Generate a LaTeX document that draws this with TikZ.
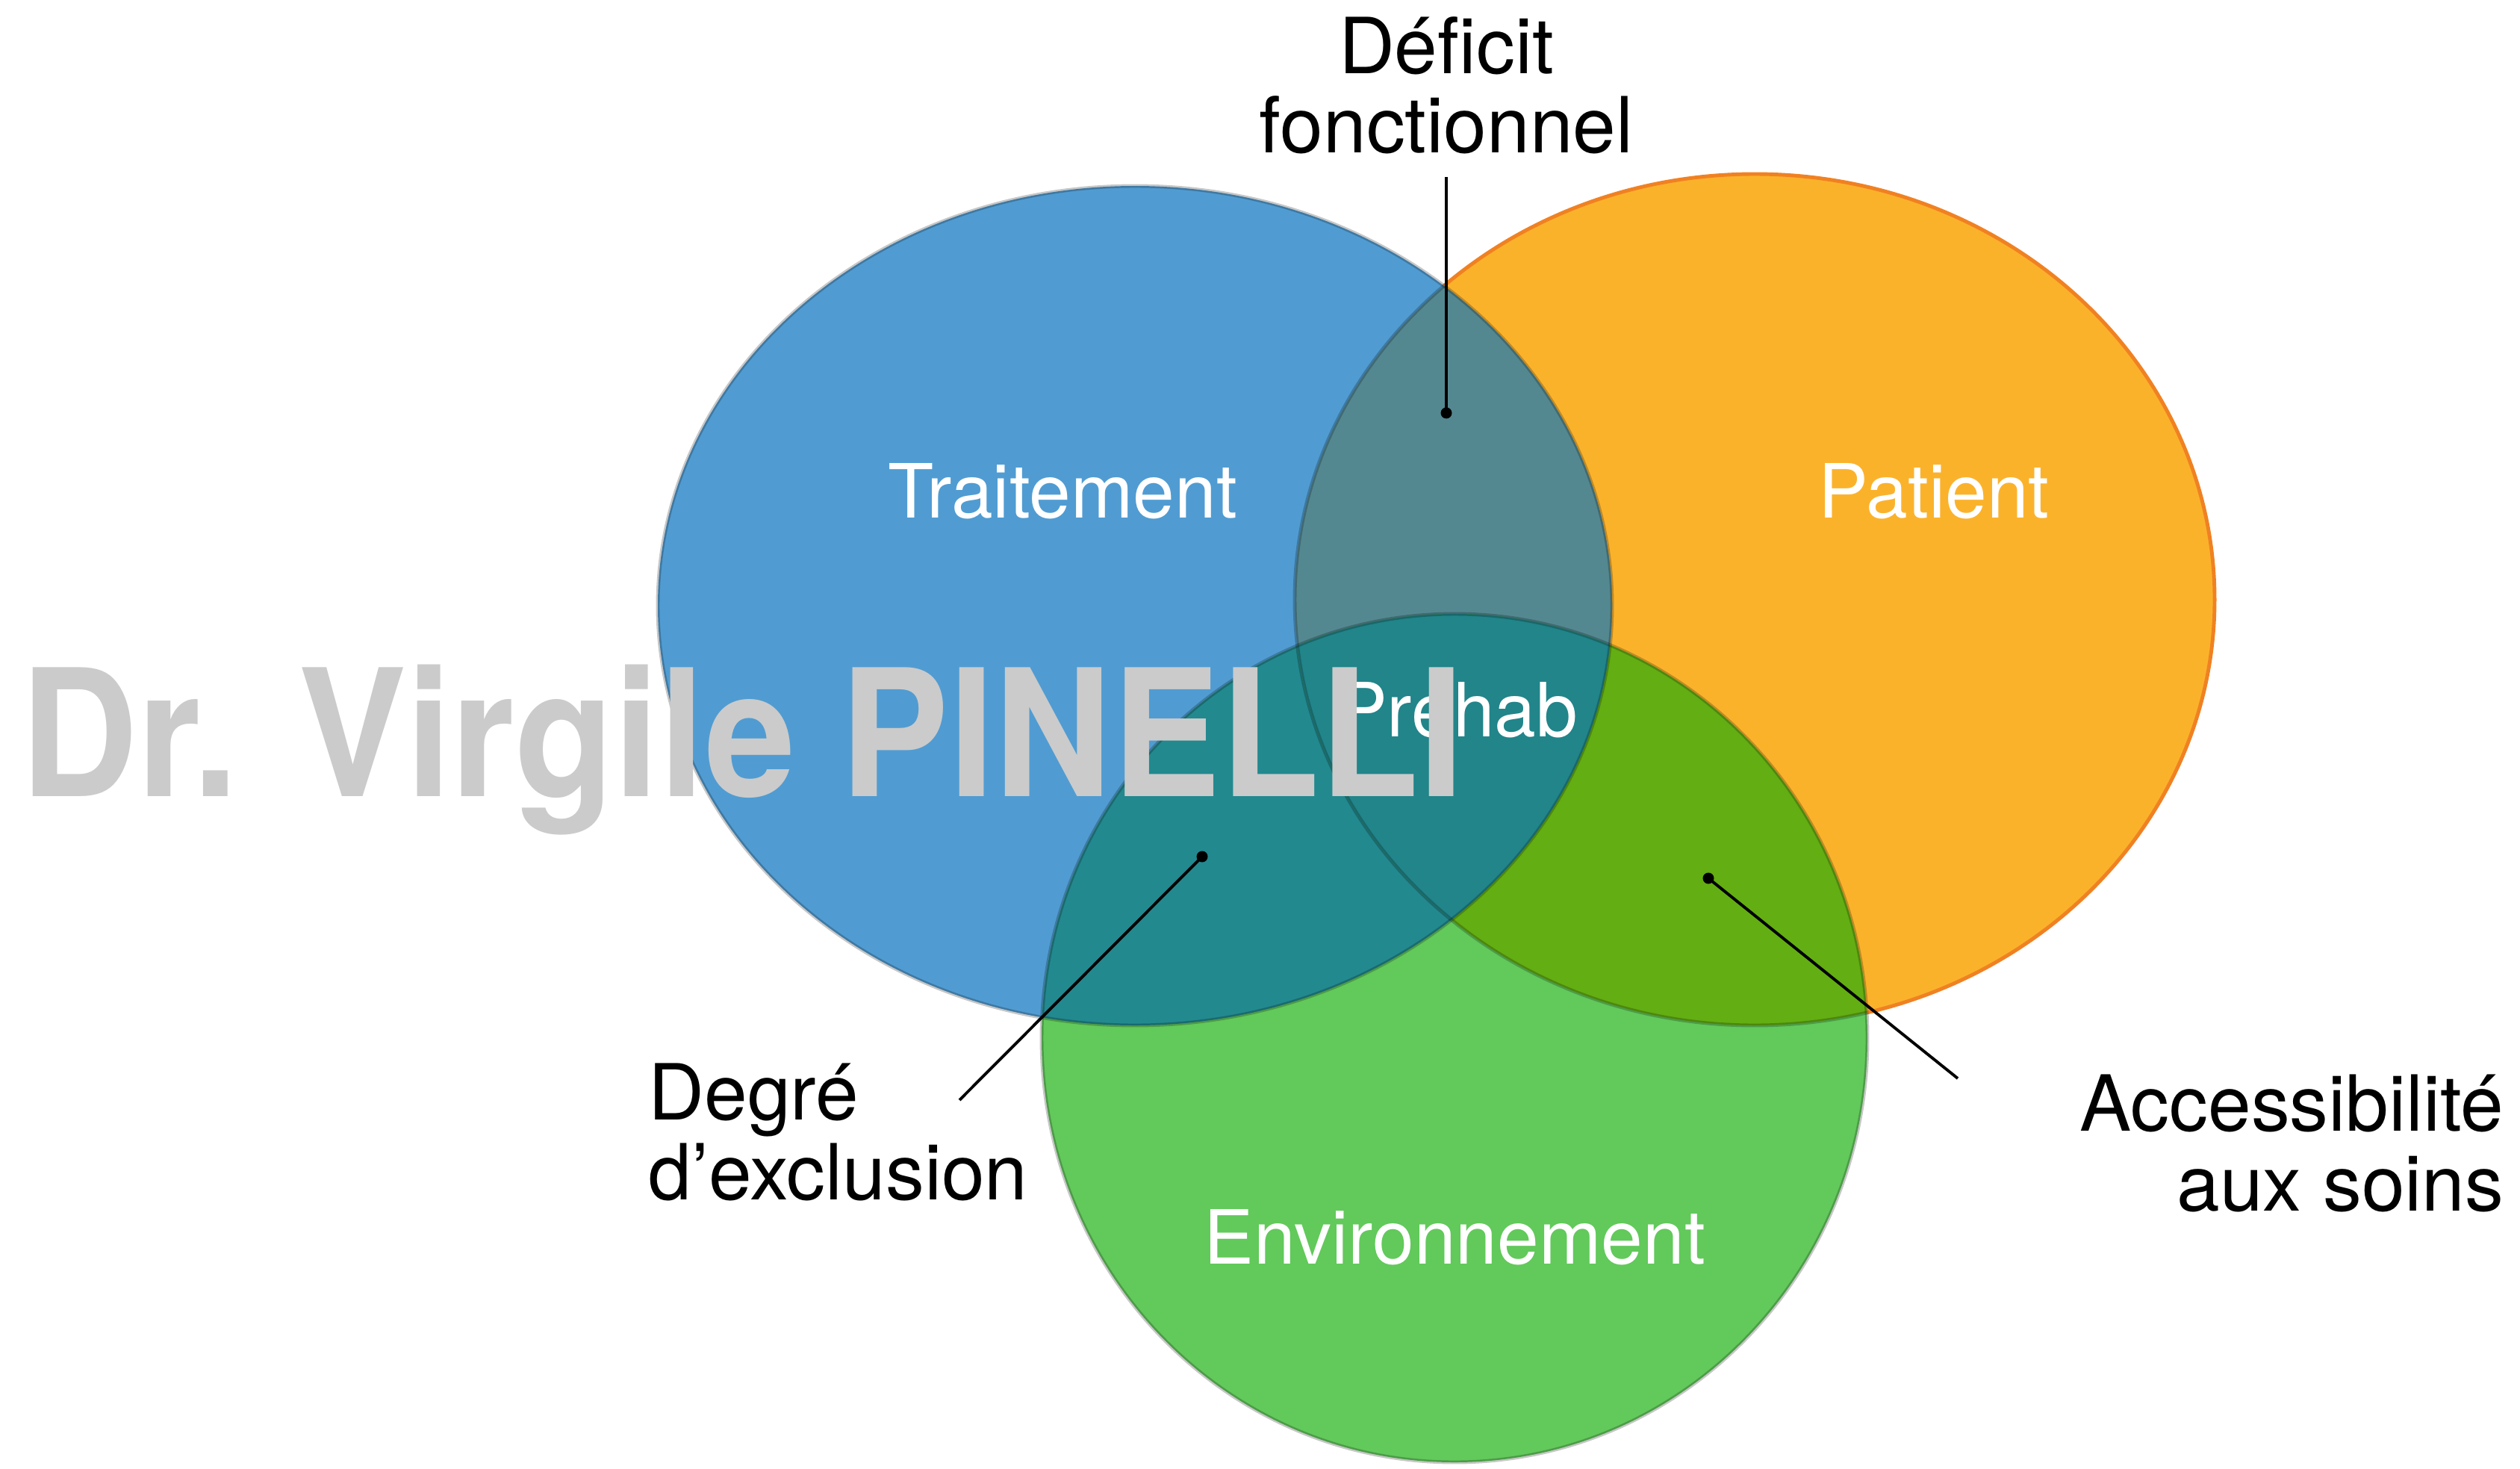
\documentclass[tikz,border=0pt]{standalone}
\usepackage{fontspec}
\setmainfont{TeX Gyre Heros}
\usepackage{tikz}

\begin{document}
\begin{tikzpicture}[
  txt/.style={font=\fontsize{29.5}{30.4}\selectfont, inner sep=0pt},
  intxt/.style={txt, white, font=\fontsize{28.5}{30.4}\selectfont},
  pindot/.style={circle, fill=black, inner sep=0pt, minimum size=0.15cm},
  leadline/.style={line width=1.1pt},
  rim/.style={line width=1.4pt, black, opacity=0.22}
]
% Define colours
\definecolor{trait}{HTML}{509CD2}
\definecolor{patient}{HTML}{FBB22B}
\definecolor{patrim}{HTML}{F08122}
\definecolor{envir}{HTML}{62C95B}
\definecolor{traitpat}{HTML}{548891}
\definecolor{traitenv}{HTML}{22898F}
\definecolor{patenv}{HTML}{63AE12}
\definecolor{prehab}{HTML}{21858A}
\definecolor{wmgray}{HTML}{CBCBCB}

% Canvas
\fill[white] (0,0) rectangle (33.75,-19.66);
\useasboundingbox (0,0) rectangle (33.75,-19.66);

% The three sets
\def\traitring{(15.20,-8.11) ellipse [x radius=6.39, y radius=5.62]}
\def\patring{(23.50,-8.03) ellipse [x radius=6.16, y radius=5.70]}
\def\envring{(19.48,-13.90) ellipse [x radius=5.53, y radius=5.68]}

% Draw sets
\fill[patient] \patring;
\draw[patrim, line width=1.4pt] \patring;
\fill[trait] \traitring;
\fill[envir] \envring;

% Draw overlaps
\begin{scope}
  \clip \traitring;
  \fill[traitpat] \patring;
  \fill[traitenv] \envring;
\end{scope}
\begin{scope}
  \clip \patring;
  \fill[patenv] \envring;
\end{scope}
\begin{scope}
  \clip \traitring;
  \clip \patring;
  \fill[prehab] \envring;
\end{scope}

% Draw rims
\begin{scope}
  \clip \traitring \envring;
  \draw[rim] \patring;
\end{scope}
\draw[rim] \traitring;
\draw[rim] \envring;

% Set names
\node[intxt, anchor=base] (traitement) at (14.23,-6.93) {Traitement};
\node[intxt, anchor=base] (patient) at (25.90,-6.93) {Patient};
\node[intxt, anchor=base] (prehabtxt) at (19.52,-9.86) {Préhab};
\node[intxt, anchor=base] (environ) at (19.48,-16.92) {Environnement};

% Outside labels (base = last line)
\node[txt, align=center, anchor=base] (deficit) at (19.37,-2.05) {Déficit\\fonctionnel};
\node[txt, align=left, anchor=base west] (exclusion) at (8.68,-16.06) {Degré\\d’exclusion};
\node[txt, align=right, anchor=base east] (acces) at (33.54,-16.21) {Accessibilité\\aux soins};

% Pointers
\node[pindot] (defdot) at (19.37,-5.53) {};
\node[pindot] (excdot) at (16.10,-11.47) {};
\node[pindot] (accdot) at (22.88,-11.76) {};
\coordinate (deftop) at (19.37,-2.37);
\coordinate (excend) at (12.85,-14.73);
\coordinate (accend) at (26.22,-14.44);
\draw[leadline] (deftop) -- (defdot.center);
\draw[leadline] (excend) -- (excdot.center);
\draw[leadline] (accend) -- (accdot.center);

% Watermark
\node[font=\bfseries\fontsize{67.4}{70}\selectfont, wmgray, inner sep=0pt, anchor=base west, xscale=0.92] (watermark) at (0.27,-10.66) {Dr. Virgile PINELLI};
\end{tikzpicture}
\end{document}
